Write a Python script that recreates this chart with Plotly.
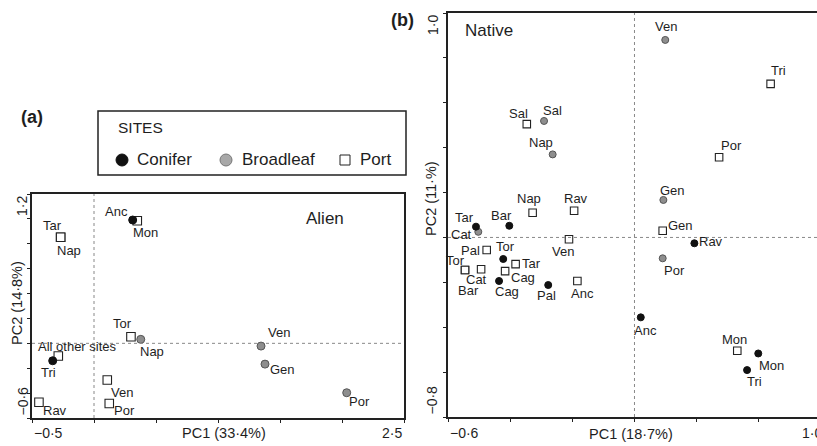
import plotly.graph_objects as go

W, H = 817, 446
FONT = "Liberation Sans, Arial, sans-serif"
TXT = "#1e1e1e"

# ---------------- Panel (a): Alien ----------------
a_sites = ["Anc", "Mon", "Tar", "Nap", "Tor", "Nap", "All other sites", "Tri",
           "Ven", "Por", "Rav", "Ven", "Gen", "Por"]
a_type = ["Conifer", "Port", "Port", "Port", "Port", "Broadleaf", "Port", "Conifer",
          "Port", "Port", "Port", "Broadleaf", "Broadleaf", "Broadleaf"]
a_pc1 = [0.312, 0.349, -0.269, -0.269, 0.298, 0.377, -0.288, -0.333,
         0.107, 0.123, -0.444, 1.347, 1.379, 2.038]
a_pc2 = [0.991, 0.985, 0.852, 0.852, 0.053, 0.032, -0.102, -0.140,
         -0.295, -0.483, -0.474, -0.022, -0.167, -0.397]
# label offsets in pixels (right, down)
a_dx = [-16, 8, -8, 8, -8, 11, 19, -4, 15, 15, 16, 18, 17, 13]
a_dy = [-9, 12, -12, 13, -13, 12, -10, 12, 12, 7, 8, -14, 5, 9]

# ---------------- Panel (b): Native ----------------
b_sites = ["Sal", "Sal", "Nap", "Nap", "Rav", "Tar", "Cat", "Bar", "Ven", "Pal",
           "Tor", "Tar", "Tor", "Bar", "Cat", "Cag", "Cag", "Pal", "Anc", "Ven",
           "Tri", "Por", "Gen", "Gen", "Rav", "Por", "Anc", "Mon", "Mon", "Tri"]
b_type = ["Port", "Broadleaf", "Broadleaf", "Port", "Port", "Conifer", "Broadleaf",
          "Conifer", "Port", "Port", "Conifer", "Port", "Port", "Port", "Port",
          "Port", "Conifer", "Conifer", "Port", "Broadleaf", "Port", "Port",
          "Broadleaf", "Port", "Conifer", "Broadleaf", "Conifer", "Port",
          "Conifer", "Conifer"]
b_pc1 = [-0.262, -0.188, -0.151, -0.237, -0.059, -0.480, -0.470, -0.337, -0.081,
         -0.434, -0.363, -0.310, -0.527, -0.527, -0.458, -0.355, -0.381, -0.170,
         -0.045, 0.332, 0.784, 0.563, 0.324, 0.321, 0.457, 0.321, 0.227, 0.641,
         0.731, 0.683]
b_pc2 = [0.505, 0.519, 0.370, 0.110, 0.119, 0.048, 0.025, 0.052, -0.008, -0.056,
         -0.096, -0.119, -0.145, -0.145, -0.142, -0.150, -0.194, -0.212, -0.194,
         0.880, 0.684, 0.357, 0.167, 0.030, -0.026, -0.093, -0.356, -0.505,
         -0.517, -0.591]
b_dx = [-8, 8, -12, -4, 2, -11, -17, -8, -6, -16, 2, 16, -10, 3, -5, 18, 8, -2,
        5, 1, 8, 12, 9, 18, 17, 12, 5, -3, 13, 7]
b_dy = [-11, -10, -12, -14, -12, -9, 3, -10, 12, 0, -12, -1, -9, 21, 10, 6, 11,
        10, 13, -13, -13, -12, -9, -5, -2, 12, 13, -11, 12, 11]

# axis tick values (unlabelled marks) and end labels
a_xticks = [-0.5, 0.0, 0.5, 1.0, 1.5, 2.0, 2.5]
a_yticks = [-0.6, -0.4, -0.2, 0.0, 0.2, 0.4, 0.6, 0.8, 1.0, 1.2]
b_xticks = [-0.6 + i * (1.6 / 6) for i in range(7)]
b_yticks = [-0.8, -0.6, -0.4, -0.2, 0.0, 0.2, 0.4, 0.6, 0.8, 1.0]
b_vline = 0.2

STYLE = {
    "Conifer": dict(color="#111111", line=dict(color="#111111", width=1)),
    "Broadleaf": dict(color="#8e8e8e", line=dict(color="#555555", width=1)),
    "Port": dict(color="#ffffff", line=dict(color="#222222", width=1.1)),
}
SYMBOL = {"Conifer": "circle", "Broadleaf": "circle", "Port": "square"}

fig = go.Figure()


def add_panel(sites, types, xs, ys, dxs, dys, xa, ya, size):
    for t in ["Port", "Broadleaf", "Conifer"]:
        idx = [i for i, tt in enumerate(types) if tt == t]
        fig.add_trace(go.Scatter(
            x=[xs[i] for i in idx], y=[ys[i] for i in idx],
            mode="markers", xaxis=xa, yaxis=ya, showlegend=False,
            hoverinfo="text", text=[sites[i] for i in idx],
            marker=dict(symbol=SYMBOL[t], size=size if t != "Port" else size + 0.5,
                        **STYLE[t]),
        ))
    for s, x, y, dx, dy in zip(sites, xs, ys, dxs, dys):
        fig.add_annotation(x=x, y=y, xref=xa, yref=ya, text=s, showarrow=False,
                           xshift=dx, yshift=-dy,
                           font=dict(family=FONT, size=13, color=TXT))


add_panel(a_sites, a_type, a_pc1, a_pc2, a_dx, a_dy, "x", "y", 8)
add_panel(b_sites, b_type, b_pc1, b_pc2, b_dx, b_dy, "x2", "y2", 7)

axis_common = dict(showgrid=False, zeroline=False, showline=True,
                   linecolor="#222222", linewidth=1.5, ticks="outside",
                   ticklen=3, tickwidth=1.2, tickcolor="#222222",
                   showticklabels=False)

fig.update_layout(
    width=W, height=H, margin=dict(l=0, r=0, t=0, b=0),
    paper_bgcolor="white", plot_bgcolor="white", showlegend=False,
    xaxis=dict(domain=[32 / W, 404 / W], range=[-0.5, 2.5], tickvals=a_xticks,
               mirror=True, anchor="y", **axis_common),
    yaxis=dict(domain=[1 - 418 / H, 1 - 194 / H], range=[-0.6, 1.2],
               tickvals=a_yticks, mirror=True, anchor="x", **axis_common),
    xaxis2=dict(domain=[448 / W, 1.0], range=[-0.6, -0.6 + 369 / 233.1],
                tickvals=b_xticks, mirror=True, anchor="y2", **axis_common),
    yaxis2=dict(domain=[1 - 417 / H, 1 - 13 / H], range=[-0.8, 1.0],
                tickvals=b_yticks, mirror=False, anchor="x2", **axis_common),
)

dash = dict(color="#888888", width=1, dash="dot")
fig.add_shape(type="line", xref="x", yref="y", x0=0, x1=0, y0=-0.6, y1=1.2, line=dash)
fig.add_shape(type="line", xref="x", yref="y", x0=-0.5, x1=2.5, y0=0, y1=0, line=dash)
fig.add_shape(type="line", xref="x2", yref="y2", x0=b_vline, x1=b_vline, y0=-0.8, y1=1.0, line=dash)
fig.add_shape(type="line", xref="x2", yref="y2", x0=-0.6, x1=1.0, y0=0, y1=0, line=dash)


def ann(text, x, y, xref="paper", yref="paper", size=14, xanchor="center",
        yanchor="middle", angle=0, bold=False):
    fig.add_annotation(text=f"<b>{text}</b>" if bold else text, x=x, y=y,
                       xref=xref, yref=yref, showarrow=False, xanchor=xanchor,
                       yanchor=yanchor, textangle=angle,
                       font=dict(family=FONT, size=size, color=TXT))


def px(xp):
    return xp / W


def py(yp):
    return 1 - yp / H


# axis end labels
ann("−0·5", -0.5, py(433), xref="x", xanchor="left", size=14)
ann("2·5", 2.5, py(433), xref="x", xanchor="right", size=14)
ann("1·2", px(22), 1.2, yref="y", yanchor="top", angle=-90, size=14)
ann("−0·6", px(22), -0.6, yref="y", yanchor="bottom", angle=-90, size=14)
ann("−0·6", -0.6, py(433), xref="x2", xanchor="left", size=14)
ann("1·0", -0.6 + 352 / 233.1, py(433), xref="x2", xanchor="left", size=14)
ann("1·0", px(433), 1.0, yref="y2", yanchor="top", angle=-90, size=14)
ann("−0·8", px(431), -0.8, yref="y2", yanchor="bottom", angle=-90, size=14)

# axis titles
ann("PC1 (33·4%)", px(224), py(433), size=14.5)
ann("PC2 (14·8%)", px(17), py(303), angle=-90, size=14.5)
ann("PC1 (18·7%)", px(631), py(434), size=14.5)
ann("PC2 (11·%)", px(431), py(199), angle=-90, size=14.5)

# panel texts
ann("Alien", px(325), py(218), size=17)
ann("Native", px(463), py(31), xanchor="left", size=17)
ann("(a)", px(32), py(117), size=18, bold=True)
ann("(b)", px(402), py(20), size=18, bold=True)

# legend box
fig.add_shape(type="rect", xref="paper", yref="paper", x0=px(98), x1=px(406),
              y0=py(175), y1=py(111), line=dict(color="#222222", width=1.5),
              fillcolor="white")
ann("SITES", px(116), py(127), xanchor="left", size=15.5)
leg_items = [("Conifer", 122, 135), ("Broadleaf", 226, 240), ("Port", 345, 358)]
for name, mx, tx in leg_items:
    st = STYLE[name]
    r = 6 if name != "Port" else 5
    fig.add_shape(type="circle" if name != "Port" else "rect",
                  xref="paper", yref="paper", xsizemode="pixel", ysizemode="pixel",
                  xanchor=px(mx), yanchor=py(160), x0=-r, x1=r, y0=-r, y1=r,
                  fillcolor=st["color"] if name != "Broadleaf" else "#a8a8a8",
                  line=dict(color=st["line"]["color"] if name != "Broadleaf" else "#777777",
                            width=1))
    ann(name, px(tx), py(160), xanchor="left", size=17)

fig.write_html("out.html", config={"displayModeBar": False},
               post_script="document.body.style.margin='0';"
                           "document.body.style.overflow='hidden';")
